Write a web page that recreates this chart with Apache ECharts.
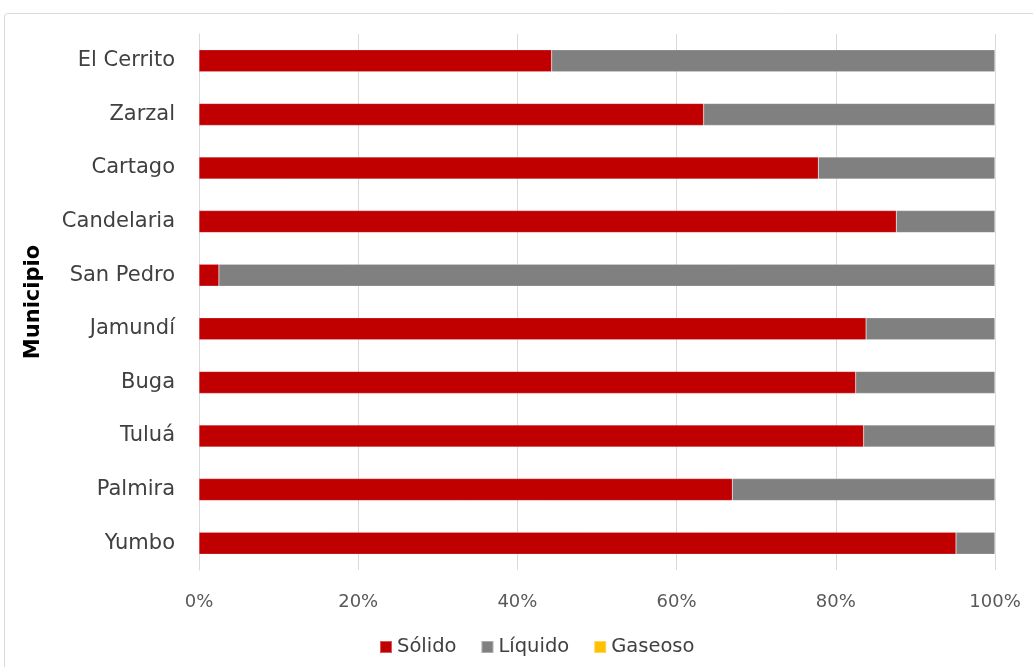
<!DOCTYPE html>
<html><head><meta charset="utf-8">
<script src="https://cdn.jsdelivr.net/npm/echarts@6/dist/echarts.min.js"></script>
<style>html,body{margin:0;padding:0;background:#fff}#c{width:1033px;height:667px}</style>
</head><body><div id="c"></div>
<script>
const categories = ['Yumbo','Palmira','Tuluá','Buga','Jamundí','San Pedro','Candelaria','Cartago','Zarzal','El Cerrito'];
const solido  = [95.1, 67.0, 83.5, 82.5, 83.8, 2.5, 87.6, 77.8, 63.4, 44.3];
const liquido = [4.9, 33.0, 16.5, 17.5, 16.2, 97.5, 12.4, 22.2, 36.6, 55.7];
const gaseoso = [0, 0, 0, 0, 0, 0, 0, 0, 0, 0];
const xTicks = [0, 20, 40, 60, 80, 100];

const font = '"DejaVu Sans", sans-serif';
const chart = echarts.init(document.getElementById('c'));
const mk = (name, data, color) => ({
  name, type: 'bar', stack: 'total', data, barWidth: '41%',
  itemStyle: { color, borderColor: 'rgba(255,255,255,0.35)', borderWidth: 0.5 },
  emphasis: { disabled: true }
});
chart.setOption({
  animation: false,
  textStyle: { fontFamily: font },
  graphic: [{ type: 'rect', shape: { x: 4.5, y: 13.5, width: 1040, height: 670, r: 3 },
    style: { fill: 'none', stroke: '#d9d9d9', lineWidth: 1 }, silent: true }],
  grid: { left: 199, right: 38, top: 34, bottom: 97 },
  legend: {
    bottom: 5, left: 374, itemWidth: 12, itemHeight: 12, itemGap: 24,
    icon: 'rect',
    textStyle: { fontFamily: font, fontSize: 19.5, color: '#404040' },
    data: ['Sólido', 'Líquido', 'Gaseoso']
  },
  xAxis: {
    type: 'value', min: 0, max: 100, interval: 20,
    axisLabel: { formatter: v => xTicks.includes(v) ? v + '%' : '', fontSize: 18, color: '#595959', margin: 23 },
    splitLine: { show: true, lineStyle: { color: '#d9d9d9', width: 1 } },
    axisLine: { show: false }, axisTick: { show: false }
  },
  yAxis: {
    type: 'category', data: categories,
    name: 'Municipio', nameLocation: 'middle', nameGap: 155, nameRotate: 90,
    nameTextStyle: { fontFamily: font, fontSize: 21, fontWeight: 'bold', color: '#000' },
    axisLabel: { fontSize: 21, color: '#404040', margin: 24, verticalAlign: 'middle', lineHeight: 26, padding: [4, 0, 0, 0] },
    axisLine: { show: true, lineStyle: { color: '#d9d9d9' } },
    axisTick: { show: false }
  },
  series: [
    mk('Sólido', solido, '#C00000'),
    mk('Líquido', liquido, '#808080'),
    mk('Gaseoso', gaseoso, '#FFC000')
  ]
});
</script></body></html>
